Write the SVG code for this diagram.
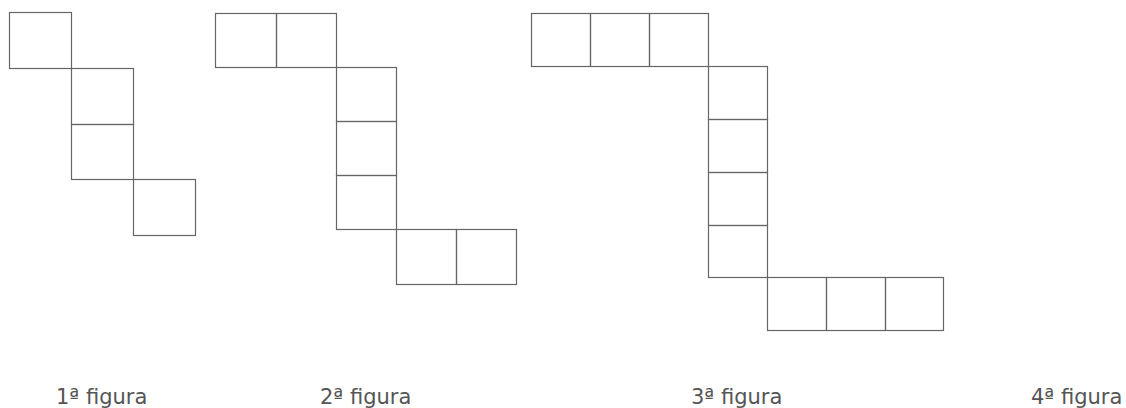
<svg xmlns="http://www.w3.org/2000/svg" width="1126" height="408" viewBox="0 0 1126 408">
<style>
.sq{fill:none;stroke:#666;stroke-width:1.2}
.lbl{font-family:"DejaVu Sans",sans-serif;font-size:21px;fill:#555}
</style>
<rect width="1126" height="408" fill="#fff"/>
<g id="fig1">
<rect class="sq" x="9.5" y="12.5" width="62" height="56"/>
<rect class="sq" x="71.5" y="68.5" width="62" height="56"/>
<rect class="sq" x="71.5" y="124.5" width="62" height="55"/>
<rect class="sq" x="133.5" y="179.5" width="62" height="56"/>
</g>
<g id="fig2">
<rect class="sq" x="215.5" y="13.5" width="61" height="54"/>
<rect class="sq" x="276.5" y="13.5" width="60" height="54"/>
<rect class="sq" x="336.5" y="67.5" width="60" height="54"/>
<rect class="sq" x="336.5" y="121.5" width="60" height="54"/>
<rect class="sq" x="336.5" y="175.5" width="60" height="54"/>
<rect class="sq" x="396.5" y="229.5" width="60" height="55"/>
<rect class="sq" x="456.5" y="229.5" width="60" height="55"/>
</g>
<g id="fig3">
<rect class="sq" x="531.5" y="13.5" width="59" height="53"/>
<rect class="sq" x="590.5" y="13.5" width="59" height="53"/>
<rect class="sq" x="649.5" y="13.5" width="59" height="53"/>
<rect class="sq" x="708.5" y="66.5" width="59" height="53"/>
<rect class="sq" x="708.5" y="119.5" width="59" height="53"/>
<rect class="sq" x="708.5" y="172.5" width="59" height="53"/>
<rect class="sq" x="708.5" y="225.5" width="59" height="52"/>
<rect class="sq" x="767.5" y="277.5" width="59" height="53"/>
<rect class="sq" x="826.5" y="277.5" width="59" height="53"/>
<rect class="sq" x="885.5" y="277.5" width="58" height="53"/>
</g>
<g id="labels">
<text class="lbl" x="56" y="404">1ª figura</text>
<text class="lbl" x="320" y="404">2ª figura</text>
<text class="lbl" x="691" y="404">3ª figura</text>
<text class="lbl" x="1031" y="404">4ª figura</text>
</g>
</svg>
